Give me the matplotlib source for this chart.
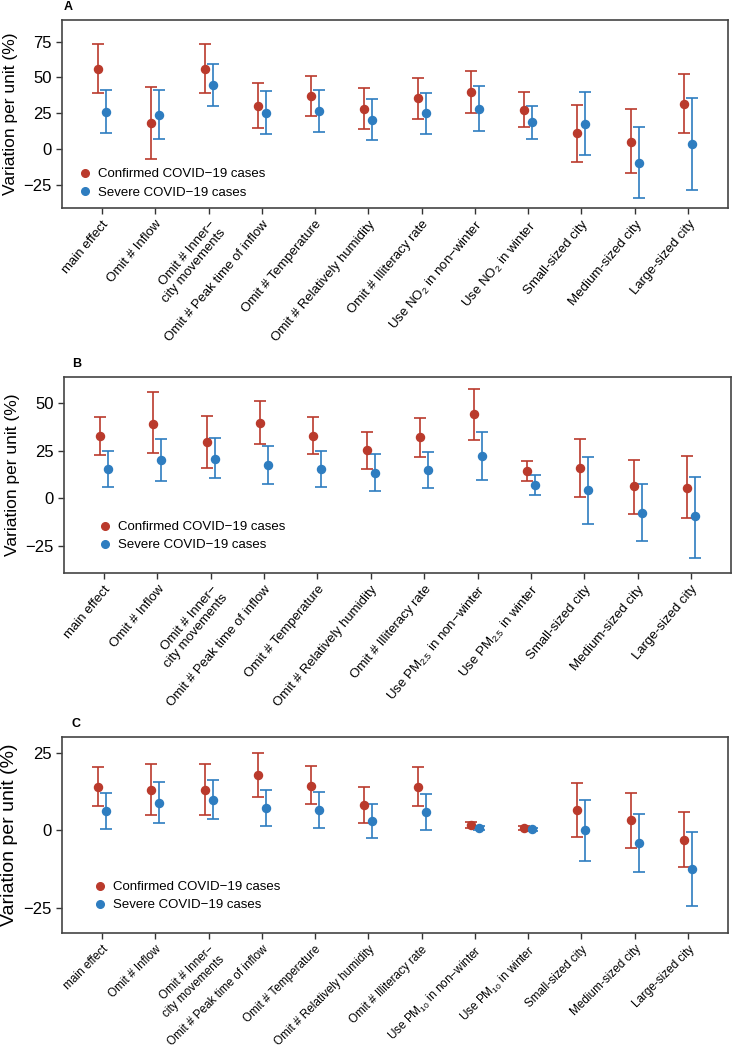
import numpy as np
import matplotlib
matplotlib.use('Agg')
import matplotlib.pyplot as plt
import matplotlib.transforms as mtransforms
from matplotlib.lines import Line2D

plt.rcParams['font.family'] = ['Liberation Sans', 'DejaVu Sans']
plt.rcParams['mathtext.default'] = 'regular'

RED = '#BA3A2C'
BLUE = '#2E7DC0'

base_labels = ['main effect', 'Omit # Inflow', 'Omit # Inner\u2212\ncity movements',
               'Omit # Peak time of inflow', 'Omit # Temperature',
               'Omit # Relatively humidity', 'Omit # Illiteracy rate']
city_labels = ['Small-sized city', 'Medium-sized city', 'Large-sized city']

labels_a = base_labels + ['Use NO$_2$ in non\u2212winter', 'Use NO$_2$ in winter'] + city_labels
labels_b = base_labels + ['Use PM$_{2.5}$ in non\u2212winter', 'Use PM$_{2.5}$ in winter'] + city_labels
labels_c = base_labels + ['Use PM$_{10}$ in non\u2212winter', 'Use PM$_{10}$ in winter'] + city_labels

# panel A (NO2)
a_conf = [56.0, 18.1, 56.0, 29.9, 36.8, 28.2, 35.4, 39.6, 27.5, 11.3, 5.3, 31.7]
a_conf_lo = [39.1, -6.9, 39.1, 14.6, 22.9, 14.1, 21.3, 25.0, 15.7, -8.8, -16.9, 11.1]
a_conf_hi = [73.1, 43.5, 73.1, 45.8, 50.9, 42.8, 49.3, 54.2, 40.0, 31.0, 28.2, 52.1]
a_sev = [26.2, 23.8, 44.4, 25.5, 26.6, 20.6, 25.0, 28.2, 19.0, 17.6, -9.3, 3.7]
a_sev_lo = [11.3, 6.9, 29.9, 10.4, 12.3, 6.3, 10.6, 12.5, 7.4, -4.2, -34.0, -28.2]
a_sev_hi = [41.0, 41.0, 59.3, 40.5, 41.0, 35.2, 39.4, 44.2, 30.3, 39.6, 15.7, 35.9]

# panel B (PM2.5)
b_conf = [32.4, 39.0, 29.4, 39.7, 32.6, 25.1, 31.9, 43.9, 14.5, 15.9, 6.3, 5.7]
b_conf_lo = [22.6, 23.5, 16.0, 28.7, 23.0, 15.5, 21.8, 30.8, 9.2, 0.5, -8.0, -10.3]
b_conf_hi = [42.5, 55.7, 42.9, 51.2, 42.5, 34.7, 42.2, 57.1, 19.7, 31.2, 20.2, 22.3]
b_sev = [15.5, 20.0, 20.7, 17.4, 15.5, 13.2, 14.8, 22.1, 7.0, 4.4, -7.5, -9.4]
b_sev_lo = [6.1, 9.2, 10.5, 7.8, 6.1, 3.8, 5.2, 9.4, 1.7, -13.2, -22.5, -31.0]
b_sev_hi = [24.9, 31.0, 31.4, 27.2, 24.9, 23.0, 24.2, 34.7, 12.2, 21.8, 7.5, 11.3]

# panel C (PM10)
c_conf = [14.0, 13.0, 13.0, 17.8, 14.5, 8.2, 14.0, 1.6, 0.75, 6.6, 3.2, -3.1]
c_conf_lo = [8.0, 5.0, 5.0, 10.9, 8.5, 2.5, 7.8, 0.75, 0.1, -2.0, -5.7, -12.0]
c_conf_hi = [20.5, 21.6, 21.6, 25.0, 20.8, 13.9, 20.4, 2.6, 1.4, 15.3, 12.2, 6.0]
c_sev = [6.4, 8.9, 9.8, 7.2, 6.5, 2.9, 6.0, 0.9, 0.3, 0.0, -4.1, -12.4]
c_sev_lo = [0.5, 2.4, 3.6, 1.3, 0.75, -2.5, 0.2, 0.0, -0.2, -9.8, -13.6, -24.4]
c_sev_hi = [12.2, 15.6, 16.3, 13.1, 12.5, 8.5, 11.7, 1.5, 0.75, 9.7, 5.4, -0.4]

W, H = 733, 1049
fig = plt.figure(figsize=(W / 100, H / 100), dpi=100)


def panel(px, letter, letter_x, labels, conf, conf_lo, conf_hi, sev, sev_lo, sev_hi,
          ylim, yticks, ylab_size, leg_xy, lab_dy=6, lab_size=9.5, lab_rot=50):
    left, top, right, bottom = px
    ax = fig.add_axes([left / W, 1 - bottom / H, (right - left) / W, (bottom - top) / H])
    x = np.arange(len(labels))
    conf = np.array(conf); sev = np.array(sev)
    cerr = [conf - np.array(conf_lo), np.array(conf_hi) - conf]
    serr = [sev - np.array(sev_lo), np.array(sev_hi) - sev]
    ax.errorbar(x - 0.075, conf, yerr=cerr, fmt='o', color=RED, ms=5.8,
                capsize=4, elinewidth=1.2, capthick=1.2)
    ax.errorbar(x + 0.075, sev, yerr=serr, fmt='o', color=BLUE, ms=5.8,
                capsize=4, elinewidth=1.2, capthick=1.2)
    ax.set_xlim(-0.75, len(labels) - 0.25)
    ax.set_ylim(*ylim)
    ax.set_yticks(yticks)
    ax.set_yticklabels(['\u2212' + str(-t) if t < 0 else str(t) for t in yticks])
    ax.set_xticks(x)
    ax.set_xticklabels(labels, rotation=lab_rot, ha='right', fontsize=lab_size,
                       rotation_mode='anchor', va='top')
    shift = mtransforms.ScaledTranslation(6 / 100, -lab_dy / 100, fig.dpi_scale_trans)
    for t in ax.get_xticklabels():
        t.set_transform(t.get_transform() + shift)
    ax.tick_params(axis='y', labelsize=12, length=4, width=1, color='#333333')
    ax.tick_params(axis='x', length=4, width=1, color='#333333')
    ax.set_ylabel('Variation per unit (%)', fontsize=ylab_size)
    for s in ax.spines.values():
        s.set_color('#444444')
        s.set_linewidth(1.2)
    handles = [Line2D([], [], marker='o', ls='none', color=RED, ms=5.5),
               Line2D([], [], marker='o', ls='none', color=BLUE, ms=5.5)]
    ax.legend(handles, ['Confirmed COVID\u221219 cases', 'Severe COVID\u221219 cases'],
              loc='lower left', bbox_to_anchor=leg_xy, frameon=False, fontsize=9.5,
              handlelength=1.0, handletextpad=0.5, labelspacing=0.45,
              borderpad=0, borderaxespad=0)
    fig.text(letter_x / W, 1 - (top - 13) / H, letter, fontsize=9,
             fontweight='bold', ha='left', va='center')
    return ax


panel((62, 20, 728, 208), 'A', 64, labels_a,
      a_conf, a_conf_lo, a_conf_hi, a_sev, a_sev_lo, a_sev_hi,
      (-41, 90), [-25, 0, 25, 50, 75], 12.5, (0.024, 0.05))
panel((64, 377, 731, 573), 'B', 72, labels_b,
      b_conf, b_conf_lo, b_conf_hi, b_sev, b_sev_lo, b_sev_hi,
      (-39, 63.5), [-25, 0, 25, 50], 12.5, (0.052, 0.11))
panel((62, 737, 728, 933), 'C', 72, labels_c,
      c_conf, c_conf_lo, c_conf_hi, c_sev, c_sev_lo, c_sev_hi,
      (-33.2, 30.2), [-25, 0, 25], 14, (0.047, 0.11),
      lab_dy=2, lab_size=8.5, lab_rot=45)

fig.savefig('out.png', dpi=100)
